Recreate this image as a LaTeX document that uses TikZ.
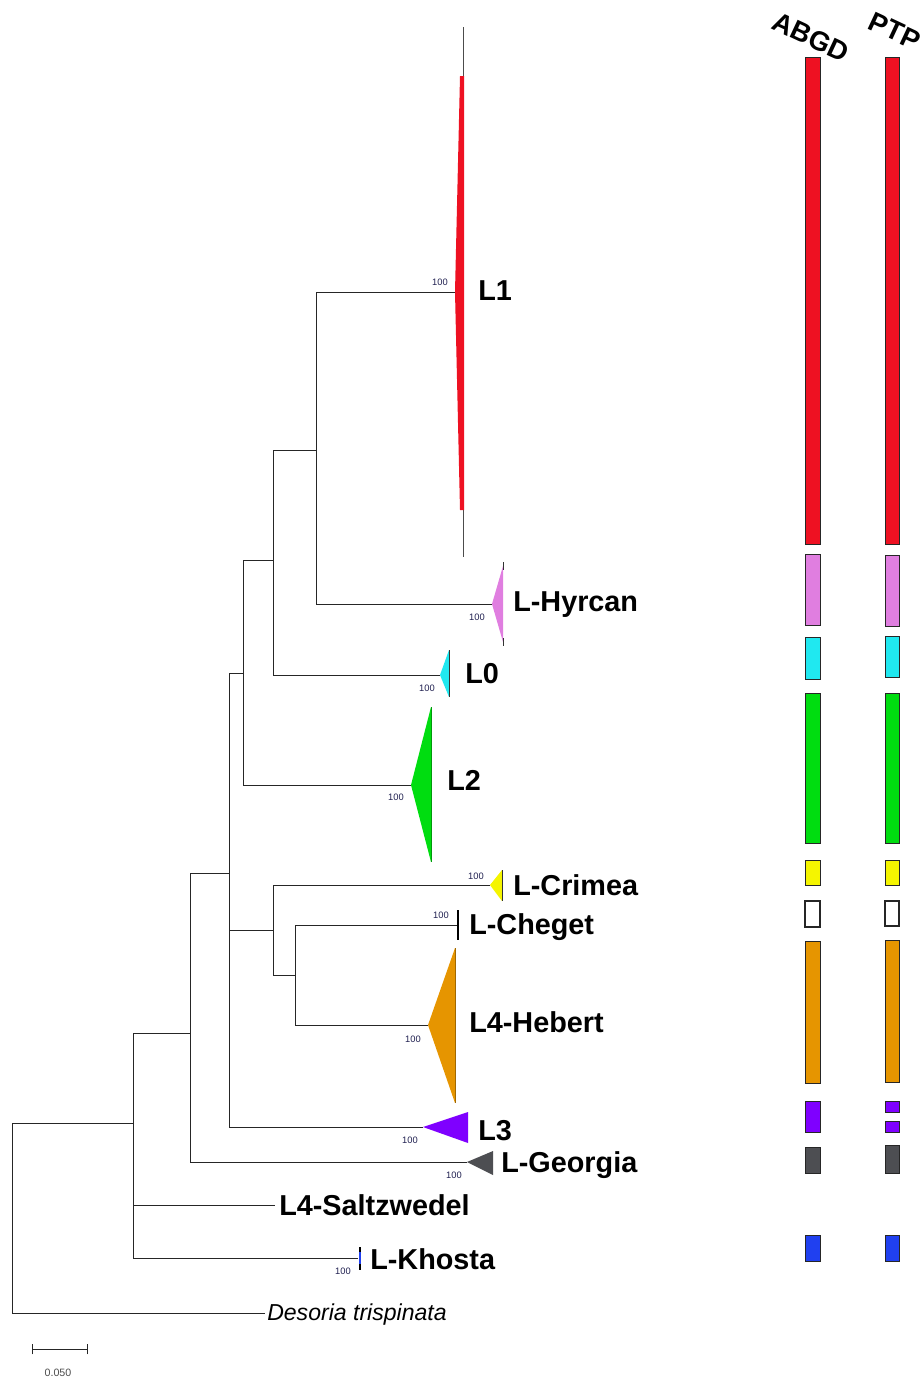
\documentclass[tikz,border=0pt]{standalone}
\usepackage{fontspec}
\setmainfont{Liberation Sans}
\definecolor{cred}{HTML}{EE1122}
\definecolor{cpink}{HTML}{E07EE0}
\definecolor{ccyan}{HTML}{20E8F0}
\definecolor{cgreen}{HTML}{00DD10}
\definecolor{cyellow}{HTML}{F5F500}
\definecolor{corange}{HTML}{E69500}
\definecolor{cpurple}{HTML}{7F00FF}
\definecolor{cgray}{HTML}{4D4E52}
\definecolor{cblue}{HTML}{2040F0}
\definecolor{bsc}{HTML}{202050}
\tikzset{
  br/.style={draw=black!85, line width=0.75pt},
  lab/.style={font=\fontsize{21.6}{24}\selectfont\bfseries, inner sep=0pt, anchor=base west},
  bs/.style={font=\fontsize{7}{8}\selectfont, text=bsc, inner sep=0pt},
  bar/.style={draw=black!85, line width=0.75pt},
  base/.style={line width=0.4pt},
  head/.style={font=\fontsize{20.5}{24}\selectfont\bfseries, inner sep=0pt, rotate=-25},
}
\begin{document}
\begin{tikzpicture}[x=0.75pt,y=-0.75pt]
\path[use as bounding box] (0,0) rectangle (924,1381);
% internal nodes
\coordinate (root) at (12,1123);
\coordinate (n133) at (133,1123);
\coordinate (n190) at (190,1033);
\coordinate (n229) at (229,873);
\coordinate (n243) at (243,673);
\coordinate (n273a) at (273,560);
\coordinate (n316) at (316,450);
\coordinate (n273b) at (273,930);
\coordinate (n295) at (295,975);
% tips
\coordinate (l1) at (455,292);
\coordinate (hyr) at (492,604);
\coordinate (l0) at (440,675);
\coordinate (l2) at (411,785);
\coordinate (cri) at (490,885);
\coordinate (che) at (457,925);
\coordinate (heb) at (428,1025);
\coordinate (l3) at (423,1127);
\coordinate (geo) at (467,1162);
\coordinate (sal) at (275,1205);
\coordinate (kho) at (358,1258);
\coordinate (des) at (265,1313);
% collapsed clades
\draw[line width=0.6pt, black!70] (463,27) -- (463,557);
\fill[cred] (l1) -- (460,76) -- (464,76) -- (464,510) -- (460,510) -- cycle;
\fill[cpink] (hyr) -- (503,566) -- (503,642) -- cycle;
\draw[base, black!80] (503,562) -- (503,570) (503,638) -- (503,646);
\fill[ccyan] (l0) -- (449,650) -- (449,697) -- cycle;
\draw[base, black!80] (449,650) -- (449,697);
\fill[cgreen] (l2) -- (431,707) -- (431,862) -- cycle;
\draw[base, cgreen!70!black] (431,707) -- (431,862);
\fill[cyellow] (cri) -- (502,870) -- (502,901) -- cycle;
\draw[base, black!80] (502,870) -- (502,901);
\draw[line width=1pt, black] (458,910) -- (458,940);
\fill[corange] (heb) -- (455,948) -- (455,1103) -- cycle;
\draw[base, corange!70!black] (455,948) -- (455,1103);
\fill[cpurple] (l3) -- (468,1112) -- (468,1143) -- cycle;
\fill[cgray] (geo) -- (493,1151) -- (493,1175) -- cycle;
\draw[line width=1pt, black] (360,1247) -- (360,1270);
\fill[cblue] (358.5,1252) rectangle (360.5,1264);
% branches
\draw[br] (root) |- (n133);
\draw[br] (root) |- (des);
\draw[br] (n133) |- (n190);
\draw[br] (n133) |- (sal);
\draw[br] (n133) |- (kho);
\draw[br] (n190) |- (n229);
\draw[br] (n190) |- (geo);
\draw[br] (n229) |- (n243);
\draw[br] (n229) |- (n273b);
\draw[br] (n229) |- (l3);
\draw[br] (n243) |- (n273a);
\draw[br] (n243) |- (l2);
\draw[br] (n273a) |- (n316);
\draw[br] (n273a) |- (l0);
\draw[br] (n316) |- (l1);
\draw[br] (n316) |- (hyr);
\draw[br] (n273b) |- (cri);
\draw[br] (n273b) |- (n295);
\draw[br] (n295) |- (che);
\draw[br] (n295) |- (heb);
% labels
\node[lab] (tL1) at (478,300) {L1};
\node[lab] (tHyr) at (513,611) {L-Hyrcan};
\node[lab] (tL0) at (465,683) {L0};
\node[lab] (tL2) at (447,790) {L2};
\node[lab] (tCri) at (513,895) {L-Crimea};
\node[lab] (tChe) at (469,934) {L-Cheget};
\node[lab] (tHeb) at (469,1032) {L4-Hebert};
\node[lab] (tL3) at (478,1140) {L3};
\node[lab] (tGeo) at (501,1172) {L-Georgia};
\node[lab] (tSal) at (279,1215) {L4-Saltzwedel};
\node[lab] (tKho) at (370,1269) {L-Khosta};
\node[inner sep=0pt, anchor=base west, font=\fontsize{17.3}{20}\selectfont\itshape] (tDes) at (267,1320) {Desoria trispinata};
% bootstrap
\node[bs] (b1) at (440,282) {100};
\node[bs] (b2) at (477,617) {100};
\node[bs] (b3) at (427,688) {100};
\node[bs] (b4) at (396,797) {100};
\node[bs] (b5) at (476,876) {100};
\node[bs] (b6) at (441,915) {100};
\node[bs] (b7) at (413,1039) {100};
\node[bs] (b8) at (410,1140) {100};
\node[bs] (b9) at (454,1175) {100};
\node[bs] (b10) at (343,1271) {100};
% scale bar
\coordinate (sb1) at (32,1349);
\coordinate (sb2) at (87,1349);
\draw[br] (sb1) -- (sb2);
\draw[br] ([yshift=-4]sb1) -- ([yshift=4]sb1);
\draw[br] ([yshift=-4]sb2) -- ([yshift=4]sb2);
\node[font=\fontsize{8}{9}\selectfont, text=black!70, inner sep=0pt] (sbl) at (58,1373) {0.050};
% headers
\node[head] (hA) at (811,37) {ABGD};
\node[head] (hP) at (895,31) {PTP};
% ABGD bars
\draw[bar, fill=cred] (805,57) rectangle (820,544);
\draw[bar, fill=cpink] (805,554) rectangle (820,625);
\draw[bar, fill=ccyan] (805,637) rectangle (820,679);
\draw[bar, fill=cgreen] (805,693) rectangle (820,843);
\draw[bar, fill=cyellow] (805,860) rectangle (820,885);
\draw[bar, line width=1.5pt, fill=white] (805,901) rectangle (820,927);
\draw[bar, fill=corange] (805,941) rectangle (820,1083);
\draw[bar, fill=cpurple] (805,1101) rectangle (820,1132);
\draw[bar, fill=cgray] (805,1147) rectangle (820,1173);
\draw[bar, fill=cblue] (805,1235) rectangle (820,1261);
% PTP bars
\draw[bar, fill=cred] (885,57) rectangle (899,544);
\draw[bar, fill=cpink] (885,555) rectangle (899,626);
\draw[bar, fill=ccyan] (885,636) rectangle (899,677);
\draw[bar, fill=cgreen] (885,693) rectangle (899,843);
\draw[bar, fill=cyellow] (885,860) rectangle (899,885);
\draw[bar, line width=1.5pt, fill=white] (885,901) rectangle (899,926);
\draw[bar, fill=corange] (885,940) rectangle (899,1082);
\draw[bar, fill=cpurple] (885,1101) rectangle (899,1112);
\draw[bar, fill=cpurple] (885,1121) rectangle (899,1132);
\draw[bar, fill=cgray] (885,1145) rectangle (899,1173);
\draw[bar, fill=cblue] (885,1235) rectangle (899,1261);
\end{tikzpicture}
\end{document}
